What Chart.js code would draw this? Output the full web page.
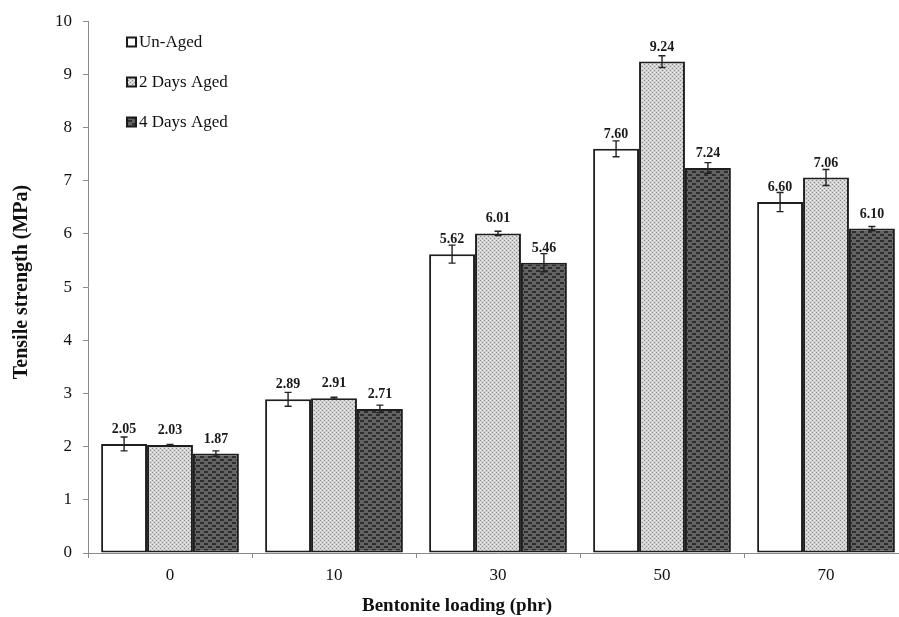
<!DOCTYPE html>
<html>
<head>
<meta charset="utf-8">
<script src="https://cdn.jsdelivr.net/npm/chart.js@4"></script>
<style>
  html, body { margin: 0; padding: 0; background: #fff; overflow: hidden; }
  #wrap { position: relative; width: 910px; height: 617px; }
</style>
</head>
<body>
<div id="wrap"><canvas id="chart" width="910" height="617"></canvas></div>
<script>
// Bentonite loading (phr)
const categories = ['0', '10', '30', '50', '70'];
// Tensile strength (MPa)
const unAged = [2.05, 2.89, 5.62, 7.60, 6.60];
const twoDaysAged = [2.03, 2.91, 6.01, 9.24, 7.06];
const fourDaysAged = [1.87, 2.71, 5.46, 7.24, 6.10];
// Standard deviations shown as error bars
const unAgedErr = [0.13, 0.13, 0.17, 0.15, 0.18];
const twoDaysAgedErr = [0.01, 0.02, 0.04, 0.11, 0.15];
const fourDaysAgedErr = [0.05, 0.07, 0.17, 0.10, 0.04];
const seriesLabels = ['Un-Aged', '2 Days Aged', '4 Days Aged'];
const yTicks = [0, 1, 2, 3, 4, 5, 6, 7, 8, 9, 10];

const SERIF = '"Liberation Serif", "Times New Roman", serif';

function makePattern(w, h, draw) {
  const c = document.createElement('canvas');
  c.width = w; c.height = h;
  const g = c.getContext('2d');
  draw(g);
  return document.getElementById('chart').getContext('2d').createPattern(c, 'repeat');
}
// light crosshatch
const lightFill = makePattern(4, 4, g => {
  g.fillStyle = '#d2d2d2'; g.fillRect(0, 0, 4, 4);
  g.fillStyle = '#8a8a8a';
  g.fillRect(0, 0, 1, 1); g.fillRect(2, 2, 1, 1);
  g.fillStyle = '#ececec';
  g.fillRect(2, 0, 1, 1); g.fillRect(0, 2, 1, 1);
});
// dark fill with staggered dashes
const darkFill = makePattern(8, 6, g => {
  g.fillStyle = '#636363'; g.fillRect(0, 0, 8, 6);
  g.fillStyle = '#2e2e2e';
  g.fillRect(0, 0, 4, 2); g.fillRect(4, 3, 4, 2);
});

const errorsByDataset = [unAgedErr, twoDaysAgedErr, fourDaysAgedErr];

const errorBarsAndLabels = {
  id: 'errorBarsAndLabels',
  afterDatasetsDraw(chart) {
    const { ctx } = chart;
    const y = chart.scales.y;
    ctx.save();
    chart.data.datasets.forEach((ds, di) => {
      const meta = chart.getDatasetMeta(di);
      meta.data.forEach((bar, i) => {
        const v = ds.data[i];
        const e = errorsByDataset[di][i];
        const x = bar.x;
        const yt = y.getPixelForValue(v + e);
        const yb = y.getPixelForValue(v - e);
        ctx.strokeStyle = '#222';
        ctx.lineWidth = 1.4;
        ctx.beginPath();
        ctx.moveTo(x, yt); ctx.lineTo(x, yb);
        ctx.moveTo(x - 3.5, yt); ctx.lineTo(x + 3.5, yt);
        ctx.moveTo(x - 3.5, yb); ctx.lineTo(x + 3.5, yb);
        ctx.stroke();
        ctx.fillStyle = '#1a1a1a';
        ctx.font = 'bold 14px ' + SERIF;
        ctx.textAlign = 'center';
        ctx.textBaseline = 'alphabetic';
        ctx.fillText(v.toFixed(2), x, y.getPixelForValue(v) - 11);
      });
    });
    ctx.restore();
  }
};

const titlesAndLegend = {
  id: 'titlesAndLegend',
  afterDraw(chart) {
    const { ctx } = chart;
    ctx.save();
    ctx.fillStyle = '#111';
    ctx.font = 'bold 19px ' + SERIF;
    ctx.textAlign = 'center';
    ctx.textBaseline = 'middle';
    ctx.fillText('Bentonite loading (phr)', 457, 606);
    ctx.font = 'bold 20px ' + SERIF;
    ctx.translate(22, 282);
    ctx.rotate(-Math.PI / 2);
    ctx.fillText('Tensile strength (MPa)', 0, 0);
    ctx.restore();

    // legend
    ctx.save();
    const fills = chart.data.datasets.map(d => d.backgroundColor);
    const ys = [42, 82, 122];
    ctx.font = '17px ' + SERIF;
    ctx.textAlign = 'left';
    ctx.textBaseline = 'middle';
    chart.data.datasets.forEach((d, i) => {
      ctx.fillStyle = fills[i];
      ctx.fillRect(127, ys[i] - 4.5, 9, 9);
      ctx.strokeStyle = '#1a1a1a';
      ctx.lineWidth = 2;
      ctx.strokeRect(127, ys[i] - 4.5, 9, 9);
      ctx.fillStyle = '#111';
      ctx.fillText(d.label, 139, ys[i] + 1);
    });
    ctx.restore();
  }
};

new Chart(document.getElementById('chart'), {
  type: 'bar',
  data: {
    labels: categories,
    datasets: [
      { label: seriesLabels[0], data: unAged, backgroundColor: '#ffffff' },
      { label: seriesLabels[1], data: twoDaysAged, backgroundColor: lightFill },
      { label: seriesLabels[2], data: fourDaysAged, backgroundColor: darkFill }
    ].map(d => Object.assign(d, {
      borderColor: '#1e1e1e',
      borderWidth: 2,
      borderSkipped: false,
      categoryPercentage: 0.84,
      barPercentage: 1.0
    }))
  },
  options: {
    responsive: false,
    animation: false,
    devicePixelRatio: 1,
    layout: { padding: { left: 0, top: 20, right: 2, bottom: 0 } },
    plugins: {
      legend: { display: false },
      tooltip: { enabled: false }
    },
    scales: {
      x: {
        grid: { display: true, drawOnChartArea: false, offset: true, tickLength: 5, color: '#8a8a8a', lineWidth: 1 },
        border: { color: '#8a8a8a', width: 1 },
        ticks: { color: '#111', font: { family: SERIF, size: 17 }, padding: 7 },
        afterFit(s) { s.height = 64; }
      },
      y: {
        min: 0, max: 10,
        afterBuildTicks(s) { s.ticks = yTicks.map(v => ({ value: v })); },
        grid: { display: true, drawOnChartArea: false, tickLength: 5, color: '#8a8a8a', lineWidth: 1 },
        border: { color: '#8a8a8a', width: 1 },
        ticks: { color: '#111', font: { family: SERIF, size: 17 }, padding: 11 },
        afterFit(s) { s.width = 88; }
      }
    }
  },
  plugins: [errorBarsAndLabels, titlesAndLegend]
});
</script>
</body>
</html>
